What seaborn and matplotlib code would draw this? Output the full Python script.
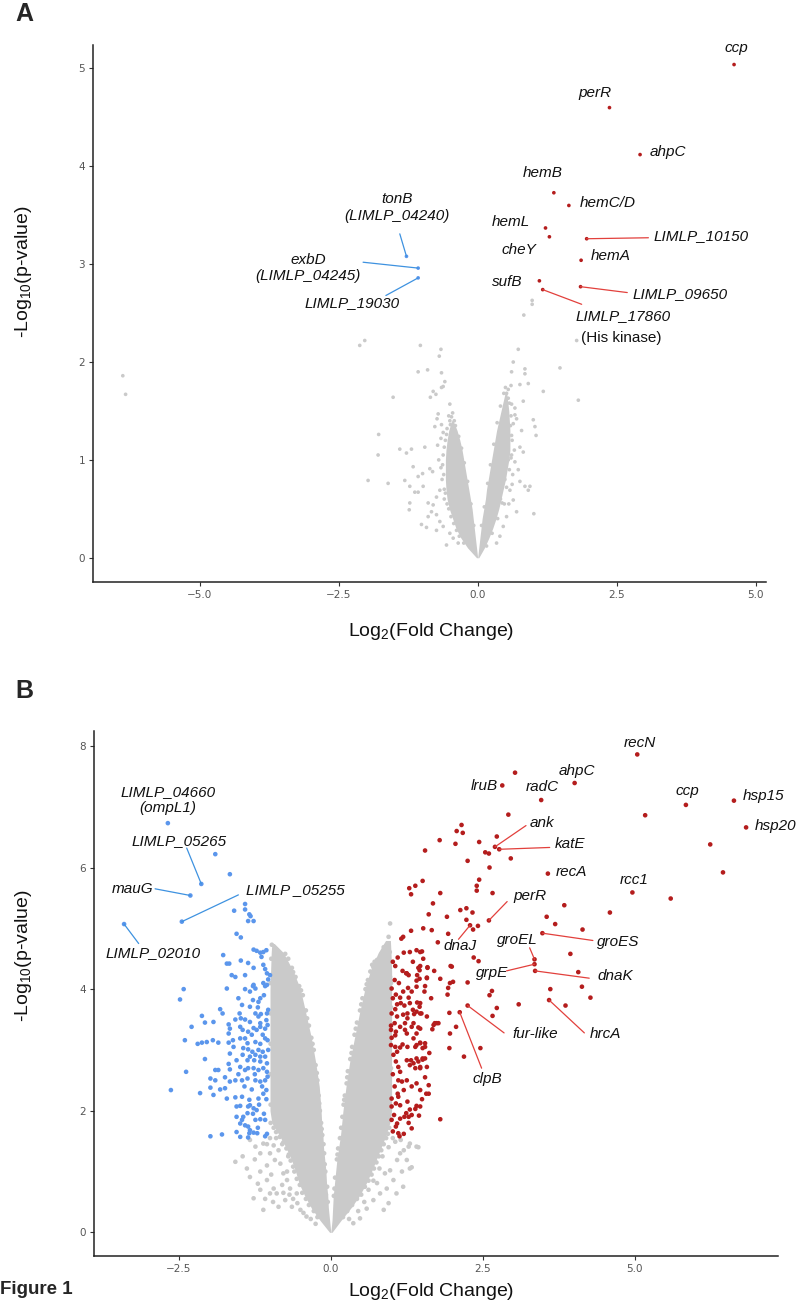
import pandas as pd
import matplotlib
matplotlib.use("Agg")
import matplotlib.pyplot as plt
import seaborn as sns

# ---------------- Panel A data (log2 fold change, -log10 p) ----------------
a_up_genes = ['ccp', 'perR', 'ahpC', 'hemB', 'hemC/D', 'hemL', 'cheY',
              'LIMLP_10150', 'hemA', 'sufB', 'LIMLP_17860', 'LIMLP_09650']
a_up_lfc = [4.61, 2.37, 2.92, 1.37, 1.64, 1.22, 1.29, 1.96, 1.86, 1.11, 1.17, 1.85]
a_up_p = [5.04, 4.60, 4.12, 3.73, 3.60, 3.37, 3.28, 3.26, 3.04, 2.83, 2.74, 2.77]

a_down_genes = ['tonB', 'exbD', 'LIMLP_19030']
a_down_lfc = [-1.28, -1.07, -1.07]
a_down_p = [3.08, 2.96, 2.86]

# dense core of the non-significant cloud (edges)
core_a_left_y = [0.0, 0.1, 0.2, 0.3, 0.4, 0.5, 0.6, 0.7, 0.8, 0.9, 1.0, 1.1, 1.2, 1.3, 1.4]
core_a_left_outer = [-0.02, -0.18, -0.30, -0.39, -0.45, -0.51, -0.55, -0.57, -0.58, -0.58,
                     -0.58, -0.57, -0.55, -0.52, -0.47]
core_a_left_inner = [0.0, -0.02, -0.04, -0.06, -0.08, -0.10, -0.13, -0.16, -0.19, -0.22,
                     -0.25, -0.28, -0.32, -0.37, -0.44]
core_a_right_y = [0.0, 0.1, 0.2, 0.3, 0.4, 0.5, 0.6, 0.7, 0.8, 0.9, 1.0, 1.1, 1.2, 1.3,
                  1.4, 1.5, 1.6, 1.7]
core_a_right_inner = [0.0, 0.02, 0.04, 0.06, 0.08, 0.11, 0.14, 0.16, 0.19, 0.22, 0.25,
                      0.28, 0.31, 0.34, 0.38, 0.42, 0.46, 0.50]
core_a_right_outer = [0.02, 0.12, 0.20, 0.27, 0.33, 0.38, 0.42, 0.46, 0.50, 0.53, 0.56,
                      0.58, 0.58, 0.58, 0.57, 0.56, 0.54, 0.52]

# scattered non-significant genes around the core
gray_a = [(-6.38, 1.86), (-6.33, 1.67), (-2.12, 2.17), (-2.03, 2.22), (-1.52, 1.64),
          (-1.78, 1.26), (-1.79, 1.05), (-1.97, 0.79), (-1.61, 0.76), (-1.40, 1.11),
          (-1.03, 2.17), (-0.66, 2.13), (-0.69, 2.06), (-1.07, 1.90), (-0.90, 1.92),
          (-0.65, 1.89), (-0.59, 1.80), (-0.65, 1.74), (-0.62, 1.75), (-0.80, 1.70),
          (-0.85, 1.64), (-0.75, 1.67), (-0.50, 1.57), (-0.71, 1.47), (-0.73, 1.42),
          (-0.77, 1.34), (-0.65, 1.36), (-0.52, 1.45), (-0.49, 1.36), (-1.28, 1.07),
          (-1.19, 1.11), (-0.95, 1.13), (-1.16, 0.93), (-1.07, 0.83), (-0.99, 0.86),
          (-0.86, 0.91), (-0.81, 0.88), (-0.98, 0.73), (-1.13, 0.67), (-1.07, 0.67),
          (-1.31, 0.79), (-1.22, 0.73), (-1.22, 0.56), (-1.23, 0.49), (-1.01, 0.34),
          (-0.92, 0.31), (-0.80, 0.54), (-0.83, 0.47), (-0.74, 0.44), (-0.89, 0.42),
          (-0.68, 0.37), (-0.62, 0.32), (-0.74, 0.28), (-0.50, 0.25), (-0.44, 0.20),
          (-0.35, 0.15), (-0.56, 0.13), (-0.74, 0.62), (-0.68, 0.69), (-0.89, 0.56),
          (-0.70, 1.00), (-0.72, 1.15), (-0.66, 1.22), (-0.64, 0.80), (-0.66, 0.92),
          (-0.62, 1.28), (-0.60, 0.60), (0.73, 2.13), (0.64, 2.00), (0.85, 1.93),
          (0.85, 1.88), (0.61, 1.90), (0.91, 1.78), (0.76, 1.77), (0.60, 1.76),
          (1.18, 1.70), (1.48, 1.94), (1.81, 1.61), (0.82, 1.60), (0.67, 1.53),
          (0.52, 1.68), (0.55, 1.63), (0.61, 1.57), (0.67, 1.46), (0.70, 1.42),
          (0.64, 1.37), (1.00, 1.41), (1.03, 1.34), (1.05, 1.25), (0.79, 1.30),
          (0.76, 1.13), (0.82, 1.08), (0.67, 0.98), (0.73, 0.90), (0.76, 0.78),
          (0.85, 0.73), (0.91, 0.69), (0.94, 0.73), (0.58, 0.69), (0.64, 0.59),
          (0.70, 0.47), (0.52, 0.42), (0.46, 0.32), (0.40, 0.22), (0.34, 0.15),
          (1.01, 0.45), (0.98, 2.63), (0.98, 2.59), (0.83, 2.48), (1.78, 2.22),
          (0.62, 1.20), (0.66, 1.10), (0.63, 0.85), (0.60, 1.02), (0.62, 0.75),
          (0.56, 0.55), (0.48, 0.55), (-0.25, 0.15), (-0.38, 0.28), (-0.48, 0.42),
          (-0.55, 0.55), (-0.60, 0.70), (-0.61, 0.85), (-0.62, 1.05), (-0.58, 1.20),
          (-0.55, 1.32), (-0.47, 1.44), (-0.42, 1.40), (0.16, 0.12), (0.26, 0.25),
          (0.36, 0.40), (0.44, 0.56), (0.52, 0.72), (0.57, 0.90), (0.61, 1.05),
          (0.61, 1.25), (0.60, 1.45), (0.57, 1.58), (0.55, 1.72), (0.50, 1.74),
          (-0.33, 0.22), (-0.43, 0.35), (-0.52, 0.50), (-0.58, 0.66), (-0.63, 0.95),
          (-0.60, 1.13), (-0.56, 1.26), (-0.50, 1.40), (-0.45, 1.48), (-0.40, 1.35),
          (-0.34, 1.24), (-0.29, 1.12), (-0.24, 0.97), (-0.18, 0.78), (-0.12, 0.55),
          (-0.07, 0.33), (0.07, 0.33), (0.12, 0.52), (0.18, 0.76), (0.23, 0.95),
          (0.29, 1.16), (0.35, 1.38), (0.41, 1.55), (0.47, 1.68), (0.22, 0.30),
          (0.32, 0.47), (0.41, 0.60), (0.49, 0.80), (0.55, 1.00), (0.59, 1.35)]

# ---------------- Panel B data ----------------
b_up_genes = ['recN', 'lruB', 'radC', 'ahpC', 'ccp', 'hsp15', 'hsp20', 'ank', 'katE',
              'recA', 'rcc1', 'perR', 'dnaJ', 'groEL', 'groES', 'grpE', 'dnaK',
              'fur-like', 'hrcA', 'clpB']
b_up_lfc = [5.04, 2.82, 3.46, 4.01, 5.84, 6.63, 6.83, 2.70, 2.77, 3.57, 4.96, 2.60,
            2.29, 3.35, 3.48, 3.35, 3.36, 2.25, 3.59, 2.12]
b_up_p = [7.86, 7.35, 7.11, 7.39, 7.03, 7.10, 6.66, 6.34, 6.30, 5.90, 5.59, 5.13,
          5.05, 4.49, 4.92, 4.41, 4.30, 3.73, 3.82, 3.62]

b_down_genes = ['LIMLP_04660', 'LIMLP_05265', 'mauG', 'LIMLP_05255', 'LIMLP_02010']
b_down_lfc = [-2.68, -2.13, -2.31, -2.45, -3.40]
b_down_p = [6.73, 5.73, 5.54, 5.11, 5.07]

red_b = [(3.03, 7.56), (2.92, 6.87), (5.17, 6.86), (2.15, 6.70), (2.07, 6.60), (2.17, 6.57),
         (1.79, 6.45), (2.44, 6.42), (2.73, 6.51), (2.05, 6.39), (6.24, 6.38), (1.55, 6.28),
         (2.54, 6.25), (2.60, 6.23), (2.96, 6.15), (2.25, 6.11), (2.61, 6.00), (6.45, 5.92),
         (1.51, 5.78), (2.44, 5.80), (2.40, 5.70), (2.40, 5.62), (1.80, 5.58), (2.66, 5.58),
         (5.59, 5.49), (1.68, 5.41), (3.84, 5.38), (2.23, 5.33), (2.13, 5.30), (2.33, 5.26),
         (4.59, 5.26), (1.61, 5.23), (1.91, 5.19), (3.55, 5.19), (2.23, 5.14), (2.42, 5.04),
         (2.34, 4.98), (3.69, 5.07), (4.14, 4.98), (1.52, 5.00), (1.93, 4.91), (1.76, 4.77),
         (2.35, 4.52), (2.43, 4.46), (3.94, 4.58), (1.50, 4.62), (1.59, 4.36), (1.99, 4.37),
         (1.80, 4.17), (2.01, 4.12), (2.25, 4.11), (1.58, 4.18), (4.07, 4.28), (3.61, 4.00),
         (4.13, 4.04), (4.27, 3.86), (2.65, 3.97), (2.61, 3.90), (1.93, 4.02), (1.54, 3.96),
         (3.09, 3.75), (2.73, 3.69), (3.86, 3.73), (1.95, 3.61), (2.66, 3.56), (2.06, 3.38),
         (1.96, 3.27), (1.95, 3.03), (2.46, 3.03), (2.19, 2.89), (1.92, 3.91), (1.97, 4.38),
         (1.96, 4.10), (1.44, 4.35), (1.25, 4.26), (1.39, 5.70), (1.29, 5.66), (1.32, 5.56),
         (1.32, 4.96), (1.66, 4.97), (1.16, 4.83), (1.19, 4.86), (1.20, 4.60), (1.30, 4.61),
         (1.41, 4.64), (1.47, 4.61), (1.06, 4.38), (1.47, 4.38), (1.59, 4.35), (1.46, 4.31),
         (1.24, 4.26), (1.28, 4.23), (1.42, 4.23), (1.58, 4.19), (1.46, 4.17), (1.41, 4.14),
         (1.00, 4.01), (1.07, 3.91), (1.14, 3.86), (1.28, 3.86), (1.33, 3.96), (1.27, 4.02),
         (1.41, 4.04), (1.19, 3.96), (1.09, 3.75), (1.15, 3.77), (1.06, 3.67), (1.21, 3.73),
         (1.30, 3.77), (1.42, 3.78), (1.46, 3.71), (1.35, 3.66), (1.47, 3.60), (1.37, 3.59),
         (1.26, 3.60), (1.19, 3.58), (1.09, 3.55), (1.00, 3.60), (1.74, 3.44), (1.69, 3.41),
         (0.99, 3.40), (1.05, 3.44), (0.99, 3.33), (1.07, 3.30), (1.14, 3.38), (1.22, 3.44),
         (1.26, 3.52), (1.22, 3.33), (1.06, 3.24), (1.33, 3.38), (1.47, 3.35), (1.41, 3.27),
         (0.99, 3.08), (1.06, 3.05), (1.14, 3.04), (1.18, 3.09), (1.26, 3.05), (1.39, 3.05),
         (1.09, 2.97), (1.47, 3.12), (1.55, 3.05), (1.51, 2.86), (1.44, 2.81), (1.32, 2.83),
         (1.25, 2.83), (1.11, 2.72), (1.07, 2.81), (1.14, 2.64), (1.30, 2.75), (1.47, 2.72),
         (1.39, 2.70), (1.11, 2.50), (1.17, 2.48), (1.25, 2.50), (1.41, 2.45), (1.20, 2.34),
         (1.10, 2.28), (1.47, 2.34), (1.61, 2.42), (1.57, 2.28), (1.33, 2.40), (1.07, 2.12),
         (1.14, 2.09), (1.26, 2.15), (1.11, 2.23), (1.30, 2.02), (1.41, 2.08), (1.24, 1.96),
         (1.47, 2.07), (1.00, 2.07), (1.04, 1.93), (1.14, 1.87), (1.21, 1.90), (1.09, 1.79),
         (1.07, 1.74), (1.11, 1.63), (1.13, 1.58), (1.33, 1.71), (1.00, 1.85), (1.80, 1.86),
         (1.02, 4.45), (1.05, 4.15), (1.02, 3.85), (1.12, 4.10), (1.18, 4.30), (1.10, 4.52),
         (1.35, 4.45), (1.52, 4.50), (1.00, 3.20), (1.03, 2.92), (1.02, 2.60), (1.05, 2.40),
         (1.00, 2.20), (1.02, 1.66), (1.20, 1.62), (1.28, 1.80), (1.45, 1.92), (1.55, 2.55),
         (1.62, 2.95), (1.58, 3.55), (1.65, 3.85), (1.55, 4.05), (1.70, 4.30), (1.58, 2.72),
         (1.47, 2.70), (1.51, 2.84), (1.61, 2.28), (1.50, 2.19), (1.39, 2.03), (1.28, 1.90),
         (1.33, 1.93), (1.25, 3.27), (1.36, 3.44), (1.44, 3.37), (1.47, 3.11), (1.55, 3.11),
         (1.47, 3.77), (1.41, 3.63), (1.49, 3.60), (1.71, 3.44), (1.77, 3.44), (1.67, 3.34),
         (1.36, 3.19), (1.41, 3.08), (1.51, 3.03), (1.55, 2.86), (1.41, 2.86), (1.36, 2.78)]

blue_b = [(-1.90, 6.22), (-1.66, 5.89), (-1.41, 5.40), (-1.59, 5.29), (-1.41, 5.31),
          (-1.34, 5.23), (-1.32, 5.20), (-1.36, 5.12), (-1.27, 5.12), (-1.55, 4.91),
          (-1.48, 4.85), (-1.27, 4.65), (-1.22, 4.63), (-1.16, 4.60), (-1.11, 4.61),
          (-1.06, 4.64), (-1.14, 4.53), (-1.77, 4.56), (-1.71, 4.42), (-1.67, 4.42),
          (-1.48, 4.47), (-1.36, 4.43), (-1.27, 4.35), (-1.41, 4.23), (-1.63, 4.23),
          (-1.57, 4.20), (-1.11, 4.40), (-1.08, 4.33), (-1.05, 4.26), (-1.00, 4.23),
          (-1.11, 4.10), (-1.05, 4.07), (-1.27, 4.07), (-2.42, 4.00), (-1.71, 4.01),
          (-1.41, 4.00), (-1.03, 4.16), (-1.28, 4.05), (-1.24, 4.01), (-1.33, 3.96),
          (-1.08, 4.05), (-1.52, 3.85), (-1.28, 3.82), (-1.19, 3.79), (-1.16, 3.85),
          (-2.48, 3.83), (-1.82, 3.67), (-1.78, 3.60), (-1.46, 3.74), (-1.33, 3.71),
          (-1.24, 3.60), (-1.15, 3.59), (-1.05, 3.60), (-1.03, 3.66), (-2.12, 3.56),
          (-1.57, 3.50), (-1.48, 3.52), (-1.41, 3.50), (-1.33, 3.46), (-1.19, 3.55),
          (-1.16, 3.44), (-1.06, 3.49), (-1.04, 3.41), (-1.08, 3.35), (-2.29, 3.38),
          (-2.07, 3.45), (-1.93, 3.46), (-1.68, 3.42), (-1.49, 3.38), (-1.45, 3.33),
          (-1.36, 3.30), (-1.27, 3.36), (-1.22, 3.33), (-1.16, 3.38), (-1.68, 3.27),
          (-1.66, 3.35), (-2.40, 3.16), (-2.19, 3.10), (-2.12, 3.12), (-2.04, 3.13),
          (-1.94, 3.16), (-1.85, 3.12), (-1.68, 3.12), (-1.61, 3.16), (-1.49, 3.19),
          (-1.41, 3.19), (-1.37, 3.11), (-1.24, 3.13), (-1.16, 3.10), (-1.08, 3.19),
          (-1.04, 3.16), (-1.44, 3.03), (-1.36, 3.01), (-1.29, 2.97), (-1.19, 3.00),
          (-1.12, 2.97), (-1.03, 3.00), (-1.08, 2.89), (-1.16, 2.89), (-1.24, 2.92),
          (-1.33, 2.89), (-1.45, 2.92), (-1.37, 2.83), (-1.26, 2.83), (-1.16, 2.81),
          (-1.05, 2.78), (-1.66, 2.94), (-1.55, 2.83), (-2.07, 2.85), (-1.90, 2.67),
          (-1.85, 2.67), (-1.68, 2.77), (-1.66, 2.68), (-1.49, 2.72), (-1.41, 2.67),
          (-1.36, 2.70), (-1.27, 2.70), (-1.19, 2.67), (-1.11, 2.70), (-1.05, 2.64),
          (-2.38, 2.64), (-1.98, 2.53), (-1.74, 2.55), (-1.90, 2.50), (-1.57, 2.50),
          (-1.46, 2.50), (-1.37, 2.53), (-1.24, 2.50), (-1.16, 2.48), (-1.08, 2.50),
          (-1.04, 2.56), (-1.66, 2.48), (-1.98, 2.38), (-1.82, 2.35), (-1.74, 2.37),
          (-1.93, 2.26), (-2.15, 2.29), (-2.63, 2.34), (-1.71, 2.20), (-1.57, 2.22),
          (-1.46, 2.23), (-1.34, 2.18), (-1.19, 2.20), (-1.06, 2.19), (-1.11, 2.28),
          (-1.06, 2.34), (-1.55, 2.07), (-1.49, 2.08), (-1.36, 2.07), (-1.33, 2.09),
          (-1.27, 2.04), (-1.22, 2.01), (-1.37, 1.96), (-1.44, 1.90), (-1.55, 1.90),
          (-1.49, 1.79), (-1.46, 1.85), (-1.41, 1.76), (-1.36, 1.74), (-1.33, 1.68),
          (-1.24, 1.85), (-1.16, 1.86), (-1.08, 1.85), (-1.49, 1.57), (-1.36, 1.56),
          (-1.34, 1.63), (-1.27, 1.64), (-1.21, 1.63), (-1.08, 1.58), (-1.05, 1.62),
          (-1.98, 1.58), (-1.79, 1.61), (-1.10, 3.90), (-1.20, 3.70), (-1.30, 3.25),
          (-1.12, 3.25), (-1.25, 2.60), (-1.13, 2.40), (-1.30, 2.35), (-1.18, 2.10),
          (-1.10, 1.95), (-1.28, 1.95), (-1.42, 2.40), (-1.52, 2.60), (-1.60, 3.05),
          (-1.50, 3.60), (-1.20, 1.72), (-1.55, 1.65)]

core_b_left_y = [0.0, 0.2, 0.4, 0.6, 0.8, 1.0, 1.2, 1.4, 1.6, 1.8, 2.0, 2.4, 2.8, 3.2,
                 3.6, 4.0, 4.3, 4.6, 4.75]
core_b_left_outer = [-0.02, -0.18, -0.32, -0.43, -0.52, -0.58, -0.65, -0.74, -0.85, -0.97,
                     -1.0, -1.0, -1.0, -1.0, -1.0, -1.0, -0.99, -0.98, -0.97]
core_b_left_inner = [0.0, -0.02, -0.04, -0.05, -0.07, -0.08, -0.10, -0.12, -0.13, -0.15,
                     -0.16, -0.19, -0.25, -0.32, -0.41, -0.50, -0.62, -0.78, -0.93]
core_b_right_y = [0.0, 0.2, 0.4, 0.6, 0.8, 1.0, 1.2, 1.4, 1.6, 1.8, 2.0, 2.4, 2.8, 3.2,
                  3.6, 4.0, 4.3, 4.6, 4.8]
core_b_right_inner = [0.0, 0.02, 0.03, 0.04, 0.06, 0.08, 0.10, 0.13, 0.16, 0.18, 0.20,
                      0.25, 0.31, 0.39, 0.47, 0.56, 0.65, 0.78, 0.90]
core_b_right_outer = [0.02, 0.17, 0.33, 0.47, 0.58, 0.67, 0.75, 0.83, 0.91, 0.97, 1.0,
                      1.0, 1.0, 1.0, 1.0, 1.0, 1.0, 0.99, 0.98]

gray_b = [(-1.57, 1.16), (-1.27, 0.56), (-0.86, 0.42), (-1.33, 0.91), (-1.16, 1.00),
          (-1.05, 0.86), (-0.94, 0.72), (-0.89, 0.64), (-0.75, 0.53), (-0.64, 0.42),
          (-1.16, 1.30), (-1.00, 1.30), (-0.92, 1.19), (-0.83, 1.13), (-0.78, 0.97),
          (-0.72, 0.86), (-0.67, 0.72), (-0.56, 0.64), (-0.50, 0.37), (-0.40, 0.26),
          (-1.00, 0.64), (-1.16, 0.70), (-1.11, 0.37), (-1.33, 1.52), (-1.24, 1.41),
          (-1.11, 1.46), (-1.00, 1.55), (-0.94, 1.43), (-0.86, 1.35), (-1.45, 1.25),
          (-1.38, 1.05), (-1.20, 0.80), (-1.05, 1.10), (-0.98, 0.95), (-0.80, 0.78),
          (-0.72, 1.00), (-0.70, 1.25), (-0.80, 1.45), (-0.90, 1.55), (-1.05, 1.45),
          (-1.25, 1.20), (-0.62, 0.55), (-0.55, 0.48), (-0.45, 0.32), (-0.33, 0.22),
          (-0.25, 0.14), (-0.68, 0.62), (-0.78, 0.65), (-0.95, 0.50), (-1.08, 0.55),
          (-0.97, 4.73), (-0.89, 4.64), (-0.81, 4.53), (-0.89, 4.37), (-0.78, 4.42),
          (-0.84, 4.26), (-0.73, 4.23), (-0.75, 4.15), (-0.93, 4.55), (-0.70, 4.35),
          (-0.65, 4.18), (-0.05, 0.50), (-0.09, 1.00), (-0.11, 1.30), (-0.14, 1.60),
          (-0.18, 2.00), (-0.22, 2.50), (-0.28, 3.00), (-0.36, 3.40), (-0.46, 3.90),
          (-0.58, 4.20), (-0.70, 4.50), (-0.06, 0.75), (-0.12, 1.45), (-0.16, 1.80),
          (-0.20, 2.25), (-0.25, 2.75), (-0.32, 3.20), (-0.41, 3.65), (-0.52, 4.05),
          (-0.64, 4.35), (-0.22, 0.25), (-0.36, 0.45), (-0.47, 0.65), (-0.56, 0.88),
          (-0.62, 1.08), (-0.69, 1.28), (-0.78, 1.48), (-0.90, 1.65), (-0.99, 1.80),
          (-0.99, 2.10), (-0.99, 2.60), (-0.99, 3.10), (-0.99, 3.60), (-0.99, 4.10),
          (-0.98, 4.50), (0.975, 5.08), (0.95, 4.86), (0.87, 4.69), (0.76, 4.48),
          (0.70, 4.36), (0.92, 4.72), (0.84, 4.59), (0.95, 4.48), (0.78, 4.31),
          (0.89, 4.37), (0.97, 4.61), (0.975, 4.20), (0.65, 4.29), (1.41, 1.41),
          (1.30, 1.05), (0.95, 0.48), (1.20, 1.35), (1.09, 1.19), (1.17, 1.00),
          (1.03, 0.86), (0.92, 0.72), (0.81, 0.64), (0.70, 0.53), (0.59, 0.39),
          (0.87, 0.37), (1.08, 0.64), (0.975, 1.02), (1.25, 1.19), (1.30, 1.46),
          (1.06, 1.49), (1.14, 1.30), (0.89, 0.97), (0.76, 0.81), (0.48, 0.23),
          (0.37, 0.15), (1.28, 1.41), (1.44, 1.40), (1.33, 1.07), (1.19, 0.75),
          (0.85, 1.25), (0.95, 1.40), (1.02, 1.55), (0.80, 1.05), (0.62, 0.70),
          (0.70, 0.85), (1.15, 1.52), (0.55, 0.50), (0.45, 0.35), (0.30, 0.22),
          (0.05, 0.60), (0.10, 1.20), (0.15, 1.55), (0.19, 1.90), (0.23, 2.25),
          (0.28, 2.65), (0.35, 3.05), (0.43, 3.45), (0.52, 3.85), (0.61, 4.15),
          (0.72, 4.45), (0.07, 0.90), (0.12, 1.38), (0.21, 2.10), (0.26, 2.45),
          (0.32, 2.85), (0.39, 3.25), (0.48, 3.65), (0.57, 4.00), (0.20, 0.25),
          (0.35, 0.45), (0.50, 0.62), (0.62, 0.85), (0.71, 1.05), (0.79, 1.25),
          (0.87, 1.45), (0.94, 1.62), (0.99, 1.85), (0.99, 2.20), (0.99, 2.70),
          (0.99, 3.20), (0.99, 3.70), (0.99, 4.10), (-0.08, 0.62), (-0.10, 1.12),
          (-0.15, 1.70), (-0.19, 2.12), (-0.23, 2.62), (-0.30, 3.10), (-0.39, 3.52),
          (-0.49, 3.98), (-0.62, 4.28), (-0.75, 4.58), (-0.28, 0.35), (-0.41, 0.55),
          (-0.51, 0.78), (-0.60, 1.00), (-0.66, 1.18), (-0.73, 1.38), (-0.84, 1.57),
          (-0.94, 1.72), (0.06, 0.72), (0.11, 1.28), (0.17, 1.72), (0.22, 2.18),
          (0.27, 2.55), (0.34, 2.95), (0.41, 3.35), (0.50, 3.75), (0.59, 4.08),
          (0.68, 4.40), (0.27, 0.35), (0.43, 0.55), (0.56, 0.75), (0.67, 0.95),
          (0.75, 1.15), (0.83, 1.35), (0.91, 1.55), (0.96, 1.72)]

# label text, anchor, alignment, leader-line end (None = no leader)
ann_a = [('ccp', 'ccp', 4.66, 5.21, 'center', None),
         ('perR', 'perR', 2.11, 4.75, 'center', None),
         ('ahpC', 'ahpC', 3.09, 4.15, 'left', None),
         ('hemB', 'hemB', 1.17, 3.93, 'center', None),
         ('hemC/D', 'hemC/D', 1.84, 3.63, 'left', None),
         ('hemL', 'hemL', 0.60, 3.43, 'center', None),
         ('cheY', 'cheY', 0.74, 3.15, 'center', None),
         ('LIMLP_10150', 'LIMLP_10150', 3.17, 3.29, 'left', (3.07, 3.27)),
         ('hemA', 'hemA', 2.03, 3.08, 'left', None),
         ('sufB', 'sufB', 0.53, 2.82, 'center', None),
         ('LIMLP_09650', 'LIMLP_09650', 2.78, 2.70, 'left', (2.69, 2.71)),
         ('LIMLP_17860', 'LIMLP_17860', 2.61, 2.47, 'center', (1.87, 2.59)),
         ('tonB', 'tonB\n(LIMLP_04240)', -1.45, 3.58, 'center', (-1.40, 3.31)),
         ('exbD', 'exbD\n(LIMLP_04245)', -3.05, 2.96, 'center', (-2.06, 3.02)),
         ('LIMLP_19030', 'LIMLP_19030', -2.26, 2.60, 'center', (-1.65, 2.68))]

ann_b = [('recN', 'recN', 5.09, 8.05, 'center', None),
         ('lruB', 'lruB', 2.75, 7.34, 'right', None),
         ('radC', 'radC', 3.48, 7.32, 'center', None),
         ('ahpC', 'ahpC', 4.05, 7.59, 'center', None),
         ('ccp', 'ccp', 5.86, 7.26, 'center', None),
         ('hsp15', 'hsp15', 7.12, 7.18, 'center', None),
         ('hsp20', 'hsp20', 7.31, 6.68, 'center', None),
         ('ank', 'ank', 3.47, 6.74, 'center', (3.21, 6.69)),
         ('katE', 'katE', 3.94, 6.39, 'center', (3.60, 6.33)),
         ('recA', 'recA', 3.95, 5.92, 'center', None),
         ('rcc1', 'rcc1', 4.99, 5.79, 'center', None),
         ('perR', 'perR', 3.28, 5.53, 'center', (2.90, 5.44)),
         ('dnaJ', 'dnaJ', 2.13, 4.71, 'center', (2.10, 4.82)),
         ('groEL', 'groEL', 3.06, 4.80, 'center', (3.27, 4.68)),
         ('groES', 'groES', 4.73, 4.78, 'center', (4.31, 4.80)),
         ('grpE', 'grpE', 2.66, 4.26, 'center', (2.89, 4.30)),
         ('dnaK', 'dnaK', 4.68, 4.22, 'center', (4.25, 4.18)),
         ('fur-like', 'fur-like', 3.36, 3.27, 'center', (2.85, 3.28)),
         ('hrcA', 'hrcA', 4.52, 3.26, 'center', (4.17, 3.28)),
         ('clpB', 'clpB', 2.58, 2.53, 'center', (2.48, 2.70)),
         ('LIMLP_04660', 'LIMLP_04660\n(ompL1)', -2.68, 7.11, 'center', None),
         ('LIMLP_05265', 'LIMLP_05265', -2.49, 6.44, 'center', (-2.37, 6.32)),
         ('mauG', 'mauG', -3.26, 5.65, 'center', (-2.89, 5.65)),
         ('LIMLP_05255', 'LIMLP _05255', -0.59, 5.63, 'center', (-1.52, 5.55)),
         ('LIMLP_02010', 'LIMLP_02010', -2.92, 4.60, 'center', (-3.16, 4.75))]

GRAY = '#cacaca'
RED = '#b41d1d'
BLUE = '#5b96ec'
RED_LINE = '#e2403c'
BLUE_LINE = '#3e92e0'

sns.set_theme(style="white")
plt.rcParams['font.family'] = ['Liberation Sans', 'DejaVu Sans']
plt.rcParams['mathtext.fontset'] = 'custom'
plt.rcParams['mathtext.rm'] = 'Liberation Sans'
plt.rcParams['mathtext.it'] = 'Liberation Sans:italic'


def build_frame(gray_pts, down_x, down_y, up_x, up_y, extra_down=(), extra_up=()):
    rows = [(x, y, 'ns') for x, y in gray_pts]
    rows += [(x, y, 'down') for x, y in extra_down]
    rows += [(x, y, 'down') for x, y in zip(down_x, down_y)]
    rows += [(x, y, 'up') for x, y in extra_up]
    rows += [(x, y, 'up') for x, y in zip(up_x, up_y)]
    return pd.DataFrame(rows, columns=['lfc', 'logp', 'group'])


def draw_panel(ax, df, core_l, core_r, size, xlim, ylim, xticks, yticks):
    ly, lo, li = core_l
    ry, ri, ro = core_r
    ax.fill_betweenx(ly, lo, li, color=GRAY, lw=0, zorder=1)
    ax.fill_betweenx(ry, ri, ro, color=GRAY, lw=0, zorder=1)
    sns.scatterplot(data=df, x='lfc', y='logp', hue='group',
                    palette={'ns': GRAY, 'down': BLUE, 'up': RED},
                    s=size, linewidth=0, legend=False, ax=ax, zorder=2)
    ax.set_xlim(*xlim)
    ax.set_ylim(*ylim)
    ax.set_xticks(xticks)
    ax.set_xticklabels([f'{v:.1f}'.replace('-', '\u2212') for v in xticks])
    ax.set_yticks(yticks)
    ax.set_yticklabels([str(v) for v in yticks])
    ax.set_xlabel('')
    ax.set_ylabel('')
    sns.despine(ax=ax)
    for side in ('left', 'bottom'):
        ax.spines[side].set_color('#222222')
        ax.spines[side].set_linewidth(1.1)
    ax.tick_params(axis='both', bottom=True, left=True, direction='out', length=3,
                   width=0.8, color='#333333', labelsize=7.5, labelcolor='#555555', pad=3)
    for lbl in ax.get_xticklabels() + ax.get_yticklabels():
        lbl.set_family('DejaVu Sans')
    ax.set_facecolor('white')


def annotate(ax, ann, genes, xs, ys, line_color, fontsize=11):
    pos = dict(zip(genes, zip(xs, ys)))
    for gene, text, tx, ty, ha, end in ann:
        ax.text(tx, ty, text, ha=ha, va='center', style='italic', fontsize=fontsize,
                color='#111111', linespacing=1.25, zorder=5)
        if end is not None:
            px, py = pos[gene]
            ax.plot([px, end[0]], [py, end[1]], color=line_color, lw=0.9, zorder=4)


fig = plt.figure(figsize=(7.97, 13.04), dpi=100)
fig.patch.set_facecolor('white')

axA = fig.add_axes([0.1171, 0.5539, 0.8437, 0.4116])
dfA = build_frame(gray_a, a_down_lfc, a_down_p, a_up_lfc, a_up_p)
draw_panel(axA, dfA, (core_a_left_y, core_a_left_outer, core_a_left_inner),
           (core_a_right_y, core_a_right_inner, core_a_right_outer), 7,
           (-6.91, 5.18), (-0.245, 5.24), [-5.0, -2.5, 0.0, 2.5, 5.0], [0, 1, 2, 3, 4, 5])
annotate(axA, [a for a in ann_a if a[0] in a_up_genes], a_up_genes, a_up_lfc, a_up_p, RED_LINE)
annotate(axA, [a for a in ann_a if a[0] in a_down_genes], a_down_genes, a_down_lfc,
         a_down_p, BLUE_LINE)
axA.text(2.58, 2.25, '(His kinase)', ha='center', va='center', fontsize=11, color='#111111')

axB = fig.add_axes([0.1183, 0.0370, 0.8575, 0.4024])
dfB = build_frame(gray_b, b_down_lfc, b_down_p, b_up_lfc, b_up_p,
                  extra_down=blue_b, extra_up=red_b)
draw_panel(axB, dfB, (core_b_left_y, core_b_left_outer, core_b_left_inner),
           (core_b_right_y, core_b_right_inner, core_b_right_outer), 11,
           (-3.89, 7.35), (-0.385, 8.245), [-2.5, 0.0, 2.5, 5.0], [0, 2, 4, 6, 8])
annotate(axB, [a for a in ann_b if a[0] in b_up_genes], b_up_genes, b_up_lfc, b_up_p, RED_LINE)
annotate(axB, [a for a in ann_b if a[0] in b_down_genes], b_down_genes, b_down_lfc,
         b_down_p, BLUE_LINE)

# axis titles and panel letters
for yc in (1 - 272 / 1304, 1 - 956 / 1304):
    fig.text(0.030, yc, r'-Log$_{10}$(p-value)', rotation=90, ha='center', va='center',
             fontsize=14, color='#111111')
for yc in (1 - 632 / 1304, 1 - 1292 / 1304):
    fig.text(0.5405, yc, r'Log$_{2}$(Fold Change)', ha='center', va='center',
             fontsize=14, color='#111111')
fig.text(15 / 797, 1 - 14 / 1304, 'A', fontsize=18, fontweight='bold', ha='left', va='center')
fig.text(15 / 797, 1 - 691 / 1304, 'B', fontsize=18, fontweight='bold', ha='left', va='center')
fig.text(0.0, 1 - 1290 / 1304, 'Figure 1', fontsize=13.5, fontweight='bold', ha='left',
         va='center')

fig.savefig('out.png', dpi=100, facecolor='white')
